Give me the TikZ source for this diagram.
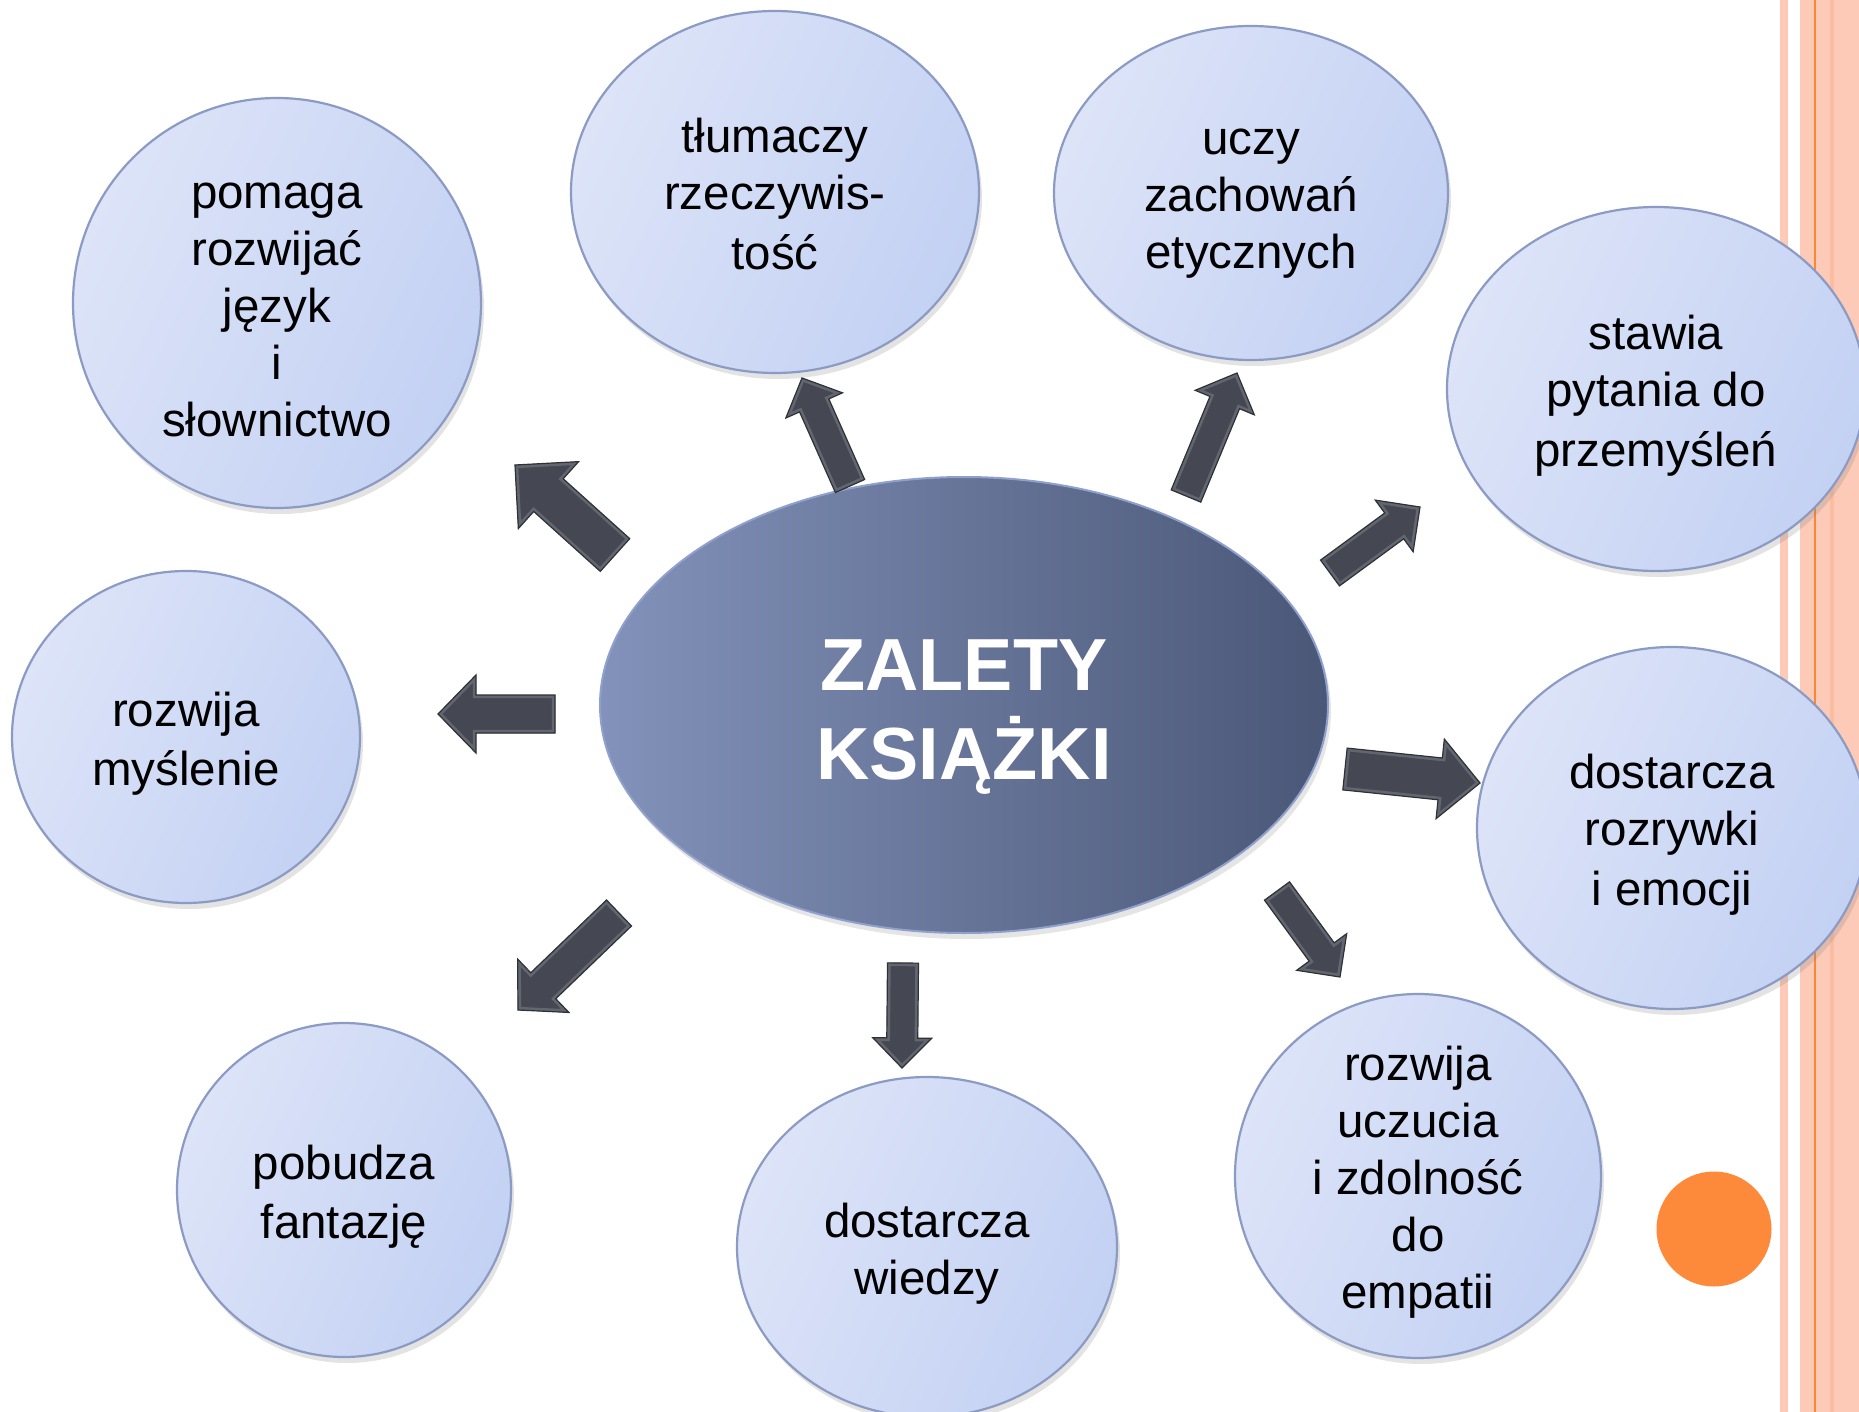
\documentclass[tikz,border=0pt]{standalone}
\usepackage{fontspec}
\setmainfont{Liberation Sans}
\usetikzlibrary{shapes.geometric,shadows,calc}
\definecolor{peach}{HTML}{FCCAB6}
\definecolor{peachdark}{HTML}{FBBDA2}
\definecolor{orangeline}{HTML}{F7883A}
\definecolor{orangedot}{HTML}{FD8A3A}
\definecolor{bubL}{HTML}{DDE4F8}
\definecolor{bubR}{HTML}{C3D1F3}
\definecolor{bubbord}{HTML}{8C9BC3}
\definecolor{hubL}{HTML}{8392BA}
\definecolor{hubR}{HTML}{4A5777}
\definecolor{hubbord}{HTML}{8FA0CC}
\definecolor{arrfill}{HTML}{454852}
\definecolor{arrbevel}{HTML}{62666F}
\definecolor{arredge}{HTML}{2F3137}
\newcommand{\bstrut}{\rule[-4.7pt]{0pt}{28.5pt}}
\newcommand{\hstrut}{\rule[-6.7pt]{0pt}{44.5pt}}
\tikzset{
  bubble/.style={ellipse, draw=bubbord, line width=1.1pt,
    left color=bubL, right color=bubR, shading angle=65,
    inner sep=-30pt, align=center, text=black,
    font=\fontsize{23.75pt}{28.5pt}\selectfont,
    drop shadow={opacity=0.22, shadow xshift=1.5pt, shadow yshift=-3pt}},
  hub/.style={ellipse, draw=hubbord, line width=1pt,
    left color=hubL, right color=hubR,
    inner sep=-30pt, minimum width=364pt, minimum height=228pt,
    align=center, text=white,
    font=\bfseries\fontsize{36.9pt}{44.5pt}\selectfont,
    drop shadow={opacity=0.2, shadow xshift=1.5pt, shadow yshift=-3pt}},
  arrshadow/.style={fill=black, opacity=0.22},
  arrbody/.style={fill=arrfill},
  arrbev/.style={draw=arrbevel, line width=3.2pt, line join=miter},
  arrline/.style={draw=arredge, line width=0.6pt, line join=miter}
}
% #1 tail coord, #2 tip coord, #3 shaft half width, #4 head half width, #5 head length
\newcommand{\blockarrow}[5]{%
  \coordinate (#1n) at ($(#2)!#5!(#1)$);
  \def\arrpath{($(#1)!#3!90:(#2)$) -- ($(#1n)!#3!90:(#2)$) -- ($(#1n)!#4!90:(#2)$)
    -- (#2) -- ($(#1n)!#4!-90:(#2)$) -- ($(#1n)!#3!-90:(#2)$) -- ($(#1)!#3!-90:(#2)$) -- cycle}%
  \begin{scope}[shift={(3,3)}]\path[arrshadow] \arrpath;\end{scope}
  \begin{scope}
    \clip \arrpath;
    \path[arrbody] \arrpath;
    \path[arrbev] \arrpath;
  \end{scope}
  \path[arrline] \arrpath;
}
\begin{document}
\begin{tikzpicture}[x=0.5pt,y=-0.5pt]
\useasboundingbox (0,0) rectangle (1859,1412);
\fill[white] (0,0) rectangle (1859,1412);
% right-hand stripes
\fill[peach] (1780,0) rectangle (1788,1412);
\fill[peach] (1800,0) rectangle (1859,1412);
\fill[peachdark] (1830,0) rectangle (1834,1412);
\fill[orangeline] (1814.3,0) rectangle (1816.3,1412);
\fill[orangedot] (1714,1229) circle [radius=57.5];

% bubbles
\node[bubble, minimum width=204pt, minimum height=205pt] (b1) at (277,303)
  {\bstrut pomaga\\rozwijać\\język\\i\\słownictwo\bstrut};
\node[bubble, minimum width=204pt, minimum height=181pt] (b2) at (775,192)
  {\bstrut tłumaczy\\rzeczywis-\\tość\bstrut};
\node[bubble, minimum width=197pt, minimum height=167pt] (b3) at (1251,193)
  {\bstrut uczy\\zachowań\\etycznych\bstrut};
\node[bubble, minimum width=209pt, minimum height=182pt] (b4) at (1656,389)
  {\bstrut stawia\\pytania do\\przemyśleń\bstrut};
\node[bubble, minimum width=174pt, minimum height=166pt] (b5) at (186,737)
  {\bstrut rozwija\\myślenie\bstrut};
\node[bubble, minimum width=195pt, minimum height=181pt] (b6) at (1672,828)
  {\bstrut dostarcza\\rozrywki\\i emocji\bstrut};
\node[bubble, minimum width=167pt, minimum height=167pt] (b7) at (344,1190)
  {\bstrut pobudza\\fantazję\bstrut};
\node[bubble, minimum width=190pt, minimum height=170pt] (b8) at (927,1247)
  {\bstrut dostarcza\\wiedzy\bstrut};
\node[bubble, minimum width=183pt, minimum height=182pt] (b9) at (1418,1176)
  {\bstrut rozwija\\uczucia\\i zdolność\\do\\empatii\bstrut};

% central ellipse
\node[hub] (hub) at (964,705) {\hstrut ZALETY\\KSIĄŻKI\hstrut};

% arrow end points
\coordinate (t1) at (615,555);  \coordinate (h1) at (515,465);
\coordinate (t2) at (850,486);  \coordinate (h2) at (802,378);
\coordinate (t3) at (1186,496); \coordinate (h3) at (1237,373);
\coordinate (t4) at (1330,573); \coordinate (h4) at (1420,507);
\coordinate (t5) at (555,714);  \coordinate (h5) at (438,714);
\coordinate (t6) at (1345,769); \coordinate (h6) at (1480,783);
\coordinate (t7) at (1277,891); \coordinate (h7) at (1340,977);
\coordinate (t8) at (903,963);  \coordinate (h8) at (902,1068);
\coordinate (t9) at (619,913);  \coordinate (h9) at (518,1010);

\blockarrow{t1}{h1}{11pt}{22.5pt}{22.5pt}
\blockarrow{t2}{h2}{8pt}{15.5pt}{15pt}
\blockarrow{t3}{h3}{8pt}{16pt}{16pt}
\blockarrow{t4}{h4}{8pt}{16pt}{16pt}
\blockarrow{t5}{h5}{9.5pt}{19.5pt}{19pt}
\blockarrow{t6}{h6}{10.5pt}{20pt}{20pt}
\blockarrow{t7}{h7}{7.75pt}{15.5pt}{15.5pt}
\blockarrow{t8}{h8}{7.75pt}{14.75pt}{15pt}
\blockarrow{t9}{h9}{9pt}{18.5pt}{17.5pt}
\end{tikzpicture}
\end{document}
